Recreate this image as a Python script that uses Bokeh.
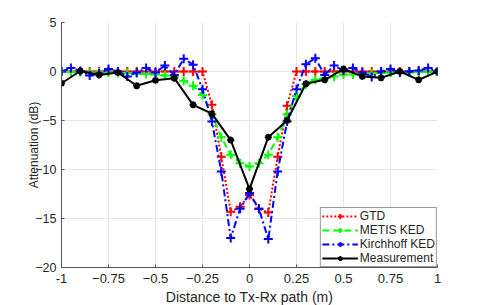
from bokeh.plotting import figure
from bokeh.models import FixedTicker, Legend, LegendItem
from bokeh.embed import file_html
from bokeh.resources import INLINE

x_model = [-1.0, -0.95, -0.9, -0.85, -0.8, -0.75, -0.7, -0.65, -0.6, -0.55, -0.5,
           -0.45, -0.4, -0.35, -0.3, -0.25, -0.2, -0.15, -0.1, -0.05, 0.0,
           0.05, 0.1, 0.15, 0.2, 0.25, 0.3, 0.35, 0.4, 0.45, 0.5,
           0.55, 0.6, 0.65, 0.7, 0.75, 0.8, 0.85, 0.9, 0.95, 1.0]
gtd = [0, 0, 0, 0, 0, 0, 0, 0, 0, 0, 0,
       0, 0, 0, 0, 0, -3.4, -8.7, -14.3, -13.8, -12.6,
       -14.0, -14.4, -8.7, -3.5, 0, 0, 0, 0, 0, 0,
       0, 0, 0, 0, 0, 0, 0, 0, 0, 0]
metis = [0, -0.05, -0.05, -0.1, -0.1, -0.1, -0.15, -0.15, -0.2, -0.25, -0.3,
         -0.4, -0.55, -0.95, -1.45, -2.4, -4.4, -6.7, -8.5, -9.35, -9.7,
         -9.35, -8.5, -6.7, -4.4, -2.5, -1.3, -0.85, -0.7, -0.5, -0.3,
         -0.3, -0.25, -0.2, -0.15, -0.1, -0.1, -0.1, -0.05, -0.05, 0]
kirchhoff = [0, 0.35, 0.05, -0.4, -0.2, 0.25, 0.0, -0.5, -0.1, 0.35, -0.1,
             0.6, -0.35, 1.3, 0.7, -1.8, -5.1, -10.2, -17.0, -14.0, -12.4,
             -14.0, -17.1, -10.2, -5.1, -1.8, 0.75, 1.35, -0.35, 0.6, 0.1,
             0.35, -0.1, -0.55, 0.0, 0.25, -0.1, 0.0, 0.1, 0.35, 0]
x_meas = [-1.0, -0.9, -0.8, -0.7, -0.6, -0.5, -0.4, -0.3, -0.2, -0.1, 0.0,
          0.1, 0.2, 0.3, 0.4, 0.5, 0.6, 0.7, 0.8, 0.9, 1.0]
meas = [-1.2, 0.05, -0.35, -0.1, -1.45, -0.9, -0.68, -3.4, -4.3, -7.0, -12.0,
        -6.7, -5.0, -1.25, -0.85, 0.25, -0.5, -0.65, 0.0, -0.85, 0.0]

x_ticks = [-1, -0.75, -0.5, -0.25, 0, 0.25, 0.5, 0.75, 1]
y_ticks = [-20, -15, -10, -5, 0, 5]

FONT = "Liberation Sans"
TXT = "#262626"

p = figure(width=483, height=304, frame_width=376, frame_height=245,
           x_range=(-1, 1), y_range=(-20, 5),
           output_backend="svg", toolbar_location=None,
           min_border_left=61, min_border_right=46, min_border_top=22, min_border_bottom=37)
p.outline_line_color = None
p.background_fill_color = "white"
p.border_fill_color = "white"

for ax in (p.xaxis[0], p.yaxis[0]):
    ax.axis_line_color = "#555555"
    ax.axis_line_width = 1
    ax.major_tick_line_color = "#555555"
    ax.major_tick_in = 3
    ax.major_tick_out = 0
    ax.minor_tick_line_color = None
    ax.major_label_text_font = FONT
    ax.major_label_text_color = TXT
    ax.axis_label_text_font = FONT
    ax.axis_label_text_font_style = "normal"
    ax.axis_label_text_color = TXT

p.xaxis.major_label_text_font_size = "13px"
p.yaxis.major_label_text_font_size = "12.5px"
p.xaxis.axis_label_text_font_size = "14px"
p.yaxis.axis_label_text_font_size = "12px"

p.xaxis.ticker = FixedTicker(ticks=x_ticks)
p.yaxis.ticker = FixedTicker(ticks=y_ticks)
p.xaxis.major_label_overrides = {-1: "-1", 0: "0", 1: "1"}
p.xaxis.axis_label = "Distance to Tx-Rx path (m)"
p.yaxis.axis_label = "Attenuation (dB)"
p.xaxis.major_label_standoff = 6
p.xaxis.axis_label_standoff = 3
p.yaxis.major_label_standoff = 5
p.yaxis.axis_label_standoff = -9

p.xgrid.grid_line_color = "#e6e6e6"
p.ygrid.grid_line_color = "#e6e6e6"

r1 = p.line(x_model, gtd, line_color="red", line_width=2, line_dash="2 2")
m1 = p.scatter(x_model, gtd, marker="cross", size=9, line_color="red", line_width=2)
r2 = p.line(x_model, metis, line_color="#00ff00", line_width=2, line_dash="7 4")
m2 = p.scatter(x_model, metis, marker="cross", size=9, line_color="#00ff00", line_width=2)
r3 = p.line(x_model, kirchhoff, line_color="blue", line_width=2, line_dash="7 3 2 3")
m3 = p.scatter(x_model, kirchhoff, marker="cross", size=9, line_color="blue", line_width=2)
r4 = p.line(x_meas, meas, line_color="black", line_width=2)
m4 = p.scatter(x_meas, meas, marker="asterisk", size=7, line_color="black", line_width=2)

legend = Legend(items=[
    LegendItem(label="GTD", renderers=[r1, m1]),
    LegendItem(label="METIS KED", renderers=[r2, m2]),
    LegendItem(label="Kirchhoff KED", renderers=[r3, m3]),
    LegendItem(label="Measurement", renderers=[r4, m4]),
], location="bottom_right")
legend.margin = 0
legend.padding = 1
legend.spacing = 0
legend.label_height = 12
legend.glyph_height = 12
legend.glyph_width = 36
legend.label_standoff = 2
legend.label_text_font = FONT
legend.label_text_font_size = "12px"
legend.label_text_color = TXT
legend.label_text_line_height = 1.0
legend.border_line_color = "#333333"
legend.border_line_width = 1
legend.background_fill_color = "white"
legend.background_fill_alpha = 1
p.add_layout(legend)

open("out.html", "w").write(file_html(p, INLINE))
